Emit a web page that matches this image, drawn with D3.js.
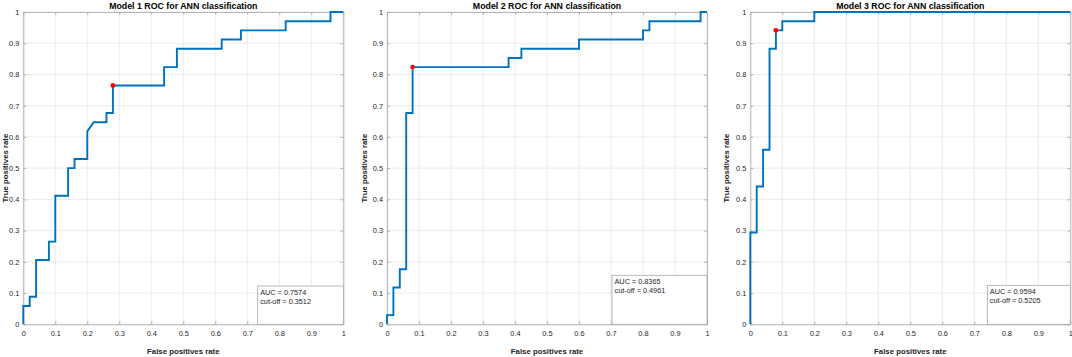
<!DOCTYPE html>
<html><head><meta charset="utf-8">
<script src="https://cdn.jsdelivr.net/npm/d3@7"></script>
<style>body{margin:0;background:#fff}svg{display:block}text{font-family:"Liberation Sans",Arial,sans-serif}</style>
</head><body><svg id="c" width="1072" height="357"></svg>
<script>
const titles = ["Model 1 ROC for ANN classification","Model 2 ROC for ANN classification","Model 3 ROC for ANN classification"];
const ticks = [0,0.1,0.2,0.3,0.4,0.5,0.6,0.7,0.8,0.9,1];
const tickLabels = ["0","0.1","0.2","0.3","0.4","0.5","0.6","0.7","0.8","0.9","1"];
// ROC curve vertices (FPR, TPR)
const m1x = [0,0,0.02,0.02,0.04,0.04,0.08,0.08,0.10,0.10,0.14,0.14,0.16,0.16,0.20,0.20,0.22,0.26,0.26,0.28,0.28,0.44,0.44,0.48,0.48,0.62,0.62,0.68,0.68,0.82,0.82,0.96,0.96,1];
const m1y = [0,2/34,2/34,3/34,3/34,7/34,7/34,9/34,9/34,14/34,14/34,17/34,17/34,18/34,18/34,21/34,22/34,22/34,23/34,23/34,26/34,26/34,28/34,28/34,30/34,30/34,31/34,31/34,32/34,32/34,33/34,33/34,1,1];
const m2x = [0,0,0.02,0.02,0.04,0.04,0.06,0.06,0.08,0.08,0.38,0.38,0.42,0.42,0.60,0.60,0.80,0.80,0.82,0.82,0.98,0.98,1];
const m2y = [0,1/34,1/34,4/34,4/34,6/34,6/34,23/34,23/34,28/34,28/34,29/34,29/34,30/34,30/34,31/34,31/34,32/34,32/34,33/34,33/34,1,1];
const m3x = [0,0,0.02,0.02,0.04,0.04,0.06,0.06,0.08,0.08,0.10,0.10,0.20,0.20,1];
const m3y = [0,10/34,10/34,15/34,15/34,19/34,19/34,30/34,30/34,32/34,32/34,33/34,33/34,1,1];
const cutX = [0.28,0.08,0.08];
const cutY = [26/34,28/34,32/34];
const aucText = ["AUC = 0.7574","AUC = 0.8365","AUC = 0.9594"];
const cutText = ["cut-off = 0.3512","cut-off = 0.4961","cut-off = 0.5205"];
const xLabel = "False positives rate", yLabel = "True positives rate";

const curves = [[m1x,m1y],[m2x,m2y],[m3x,m3y]];
const lefts = [23.3, 387, 750.3];
const yLabOff = [17.8, 22.5, 23.6];
const W = 320, pTop = 12, pBottom = 324.3;
const boxes = [[257.7,286],[612,275.3],[987.3,285.3]];
const svg = d3.select("#c");

curves.forEach((cv,i)=>{
  const L = lefts[i];
  const x = d3.scaleLinear().domain([0,1]).range([L,L+W]);
  const y = d3.scaleLinear().domain([0,1]).range([pBottom,pTop]);
  const g = svg.append("g");
  // grid
  g.append("g").selectAll("line").data(ticks).join("line")
    .attr("x1",d=>x(d)).attr("x2",d=>x(d)).attr("y1",pTop).attr("y2",pBottom)
    .attr("stroke","#e6e6e6").attr("stroke-width",0.8);
  g.append("g").selectAll("line").data(ticks).join("line")
    .attr("y1",d=>y(d)).attr("y2",d=>y(d)).attr("x1",L).attr("x2",L+W)
    .attr("stroke","#e6e6e6").attr("stroke-width",0.8);
  // axes
  const fmt = (d)=>tickLabels[ticks.indexOf(d)];
  const ax = g.append("g").attr("transform",`translate(0,${pBottom})`)
    .call(d3.axisBottom(x).tickValues(ticks).tickFormat(fmt).tickSizeInner(-3).tickSizeOuter(0).tickPadding(6));
  const ay = g.append("g").attr("transform",`translate(${L},0)`)
    .call(d3.axisLeft(y).tickValues(ticks).tickFormat(fmt).tickSizeInner(-3).tickSizeOuter(0).tickPadding(4));
  const axT = g.append("g").attr("transform",`translate(0,${pTop})`)
    .call(d3.axisTop(x).tickValues(ticks).tickFormat("").tickSizeInner(-3).tickSizeOuter(0));
  const ayR = g.append("g").attr("transform",`translate(${L+W},0)`)
    .call(d3.axisRight(y).tickValues(ticks).tickFormat("").tickSizeInner(-3).tickSizeOuter(0));
  [ax,ay,axT,ayR].forEach(a=>{
    a.select(".domain").attr("stroke","#a6a6a6").attr("stroke-width",0.8);
    a.selectAll(".tick line").attr("stroke","#a6a6a6").attr("stroke-width",0.8);
    a.selectAll("text").attr("fill","#262626").style("font-size","7.4px").style("font-family","'Liberation Sans',Arial,sans-serif");
  });
  // curve
  const line = d3.line().x(d=>x(d[0])).y(d=>y(d[1]));
  g.append("path").datum(cv[0].map((v,k)=>[v,cv[1][k]]))
    .attr("d",line).attr("fill","none").attr("stroke","#0072BD").attr("stroke-width",1.9).attr("stroke-linejoin","miter");
  // cut-off point
  g.append("circle").attr("cx",x(cutX[i])).attr("cy",y(cutY[i])).attr("r",2.4).attr("fill","#ff0000");
  // title
  g.append("text").attr("x",L+W/2).attr("y",8.8).attr("text-anchor","middle")
    .style("font-size","8.8px").style("font-weight","bold").attr("fill","#000").text(titles[i]);
  // x label
  g.append("text").attr("x",L+W/2).attr("y",354).attr("text-anchor","middle")
    .style("font-size","7.8px").style("font-weight","bold").attr("fill","#262626").text(xLabel);
  // y label
  g.append("text").attr("transform",`translate(${L-yLabOff[i]+2.5},${(pTop+pBottom)/2}) rotate(-90)`).attr("text-anchor","middle")
    .style("font-size","7.8px").style("font-weight","bold").attr("fill","#262626").text(yLabel);
  // annotation box
  const bx = boxes[i][0], by = boxes[i][1];
  g.append("rect").attr("x",bx).attr("y",by).attr("width",L+W-bx).attr("height",pBottom-by)
    .attr("fill","#fff").attr("stroke","#a6a6a6").attr("stroke-width",0.8);
  g.append("text").attr("x",bx+2.5).attr("y",by+9).style("font-size","7.3px").attr("fill","#262626").text(aucText[i]);
  g.append("text").attr("x",bx+2.5).attr("y",by+17.6).style("font-size","7.3px").attr("fill","#262626").text(cutText[i]);
});
</script></body></html>
